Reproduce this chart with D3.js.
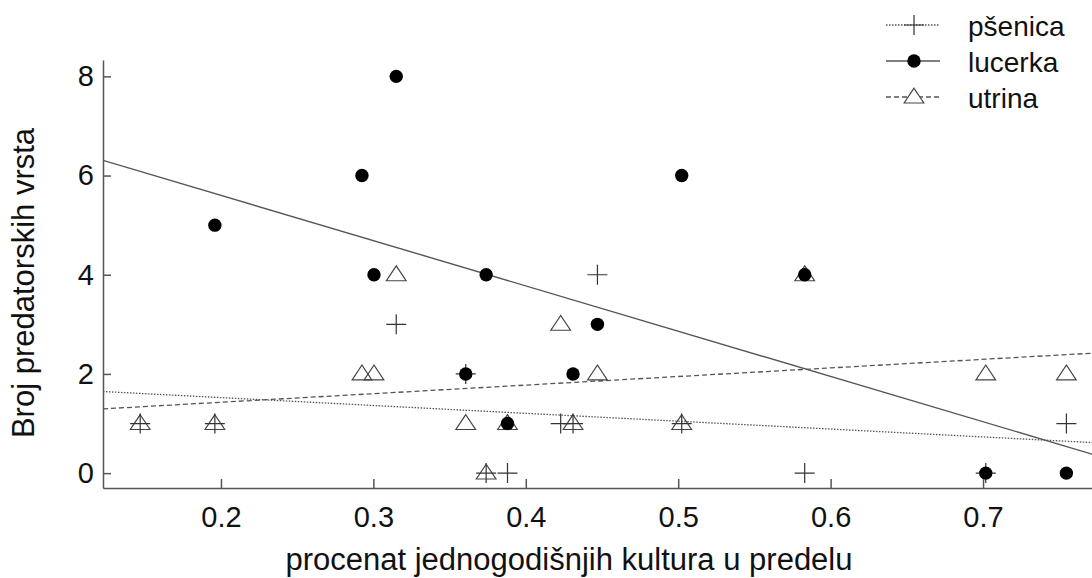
<!DOCTYPE html>
<html lang="sr">
  <head>
    <meta charset="UTF-8" />
    <title>Broj predatorskih vrsta</title>
    <style>
      body {
        margin: 0;
        background: #fff;
        font-family: "Liberation Sans", Arial, sans-serif;
      }
      .axis path,
      .axis line {
        stroke: #555;
        stroke-width: 1.5px;
      }
      .axis text {
        font-family: "Liberation Sans", Arial, sans-serif;
        font-size: 29px;
        fill: #111;
      }
      .label {
        font-size: 31px;
        fill: #111;
      }
      .legend text {
        font-size: 28px;
        fill: #111;
      }
    </style>
  </head>
  <body>
    <svg id="chart" width="1092" height="578"></svg>
    <script src="https://cdn.jsdelivr.net/npm/d3@7"></script>
    <script>
      // share of annual crops per site, and species counts per crop
      const sites = [0.147, 0.196, 0.2925, 0.3004, 0.315, 0.3606, 0.374, 0.388,
                     0.4229, 0.431, 0.447, 0.5023, 0.583, 0.7018, 0.7547];
      const psenica = [1, 1, null, null, 3, 2, 0, 0, 1, 1, 4, 1, 0, 0, 1];
      const lucerka = [null, 5, 6, 4, 8, 2, 4, 1, null, 2, 3, 6, 4, 0, 0];
      const utrina = [1, 1, 2, 2, 4, 1, 0, 1, 3, 1, 2, 1, 4, 2, 2];

      const seriesNames = ["pšenica", "lucerka", "utrina"];
      const xTicks = [0.2, 0.3, 0.4, 0.5, 0.6, 0.7];
      const yTicks = [0, 2, 4, 6, 8];

      const svg = d3.select("#chart");
      const x = d3.scaleLinear().domain([0.1226, 0.7715]).range([103, 1092]);
      const y = d3.scaleLinear().domain([-0.3, 8.33]).range([488, 60]);

      function points(vals) {
        return sites
          .map((s, i) => ({ x: s, y: vals[i] }))
          .filter((d) => d.y !== null);
      }

      // least squares line through one series
      function fit(pts) {
        const mx = d3.mean(pts, (d) => d.x);
        const my = d3.mean(pts, (d) => d.y);
        const sxy = d3.sum(pts, (d) => (d.x - mx) * (d.y - my));
        const sxx = d3.sum(pts, (d) => (d.x - mx) * (d.x - mx));
        const b = sxy / sxx;
        return { a: my - b * mx, b: b };
      }

      const series = [
        { name: seriesNames[0], pts: points(psenica), dash: "1.5,1.5", width: 1.3 },
        { name: seriesNames[1], pts: points(lucerka), dash: null, width: 1.4 },
        { name: seriesNames[2], pts: points(utrina), dash: "5,3", width: 1.3 },
      ];

      svg.append("clipPath").attr("id", "clip")
        .append("rect").attr("x", 103).attr("y", 0).attr("width", 989).attr("height", 488);

      // fitted lines
      const [x0, x1] = x.domain();
      svg.append("g").attr("clip-path", "url(#clip)")
        .selectAll("line")
        .data(series)
        .join("line")
        .attr("x1", x(x0))
        .attr("x2", x(x1))
        .attr("y1", (d) => { const f = fit(d.pts); return y(f.a + f.b * x0); })
        .attr("y2", (d) => { const f = fit(d.pts); return y(f.a + f.b * x1); })
        .attr("stroke", "#555")
        .attr("stroke-width", (d) => d.width)
        .attr("stroke-dasharray", (d) => d.dash);

      const tri = d3.symbol().type(d3.symbolTriangle).size(140);
      const plus = "M-10,0H10M0,-10V10";

      function drawTriangles(g, data) {
        g.selectAll(".tri").data(data).join("path")
          .attr("class", "tri")
          .attr("d", tri)
          .attr("transform", (d) => `translate(${x(d.x)},${y(d.y) + 1}) scale(1.1,0.95)`)
          .attr("fill", "none")
          .attr("stroke", "#444")
          .attr("stroke-width", 1.1);
      }
      function drawPlus(g, data) {
        g.selectAll(".plus").data(data).join("path")
          .attr("class", "plus")
          .attr("d", plus)
          .attr("transform", (d) => `translate(${x(d.x)},${y(d.y)})`)
          .attr("stroke", "#333")
          .attr("stroke-width", 1.2);
      }
      function drawDots(g, data) {
        g.selectAll(".dot").data(data).join("circle")
          .attr("class", "dot")
          .attr("cx", (d) => x(d.x))
          .attr("cy", (d) => y(d.y))
          .attr("r", 6.7)
          .attr("fill", "#000");
      }

      const marks = svg.append("g");
      drawTriangles(marks.append("g"), series[2].pts);
      drawPlus(marks.append("g"), series[0].pts);
      drawDots(marks.append("g"), series[1].pts);

      // axes
      svg.append("g")
        .attr("class", "axis")
        .attr("transform", "translate(103,0)")
        .call(d3.axisLeft(y).tickValues(yTicks).tickFormat(d3.format("d"))
          .tickSize(-8).tickSizeOuter(0).tickPadding(9));

      svg.append("g")
        .attr("class", "axis")
        .attr("transform", "translate(0,488)")
        .call(d3.axisBottom(x).tickValues(xTicks).tickFormat(d3.format(".1f"))
          .tickSize(-9).tickSizeOuter(0).tickPadding(18));

      svg.append("text")
        .attr("class", "label")
        .attr("text-anchor", "middle")
        .attr("transform", "translate(34,283) rotate(-90)")
        .text("Broj predatorskih vrsta");

      svg.append("text")
        .attr("class", "label")
        .attr("text-anchor", "middle")
        .attr("x", 569)
        .attr("y", 570)
        .text("procenat jednogodišnjih kultura u predelu");

      // legend
      const legend = svg.append("g").attr("class", "legend");
      const rows = legend.selectAll("g").data(series).join("g")
        .attr("transform", (d, i) => `translate(0,${25 + i * 36})`);
      rows.append("line")
        .attr("x1", 886).attr("x2", 940)
        .attr("stroke", "#555")
        .attr("stroke-width", (d) => d.width)
        .attr("stroke-dasharray", (d) => d.dash);
      rows.each(function (d, i) {
        const g = d3.select(this);
        if (i === 0) {
          g.append("path").attr("d", plus)
            .attr("transform", "translate(914,0)")
            .attr("stroke", "#333").attr("stroke-width", 1.2);
        } else if (i === 1) {
          g.append("circle").attr("cx", 914).attr("r", 6.7).attr("fill", "#000");
        } else {
          g.append("path").attr("d", tri)
            .attr("transform", "translate(914,1) scale(1.1,0.95)")
            .attr("fill", "#fff").attr("stroke", "#444").attr("stroke-width", 1.1);
        }
      });
      rows.append("text")
        .attr("x", 968)
        .attr("y", 11)
        .text((d) => d.name);
    </script>
  </body>
</html>
